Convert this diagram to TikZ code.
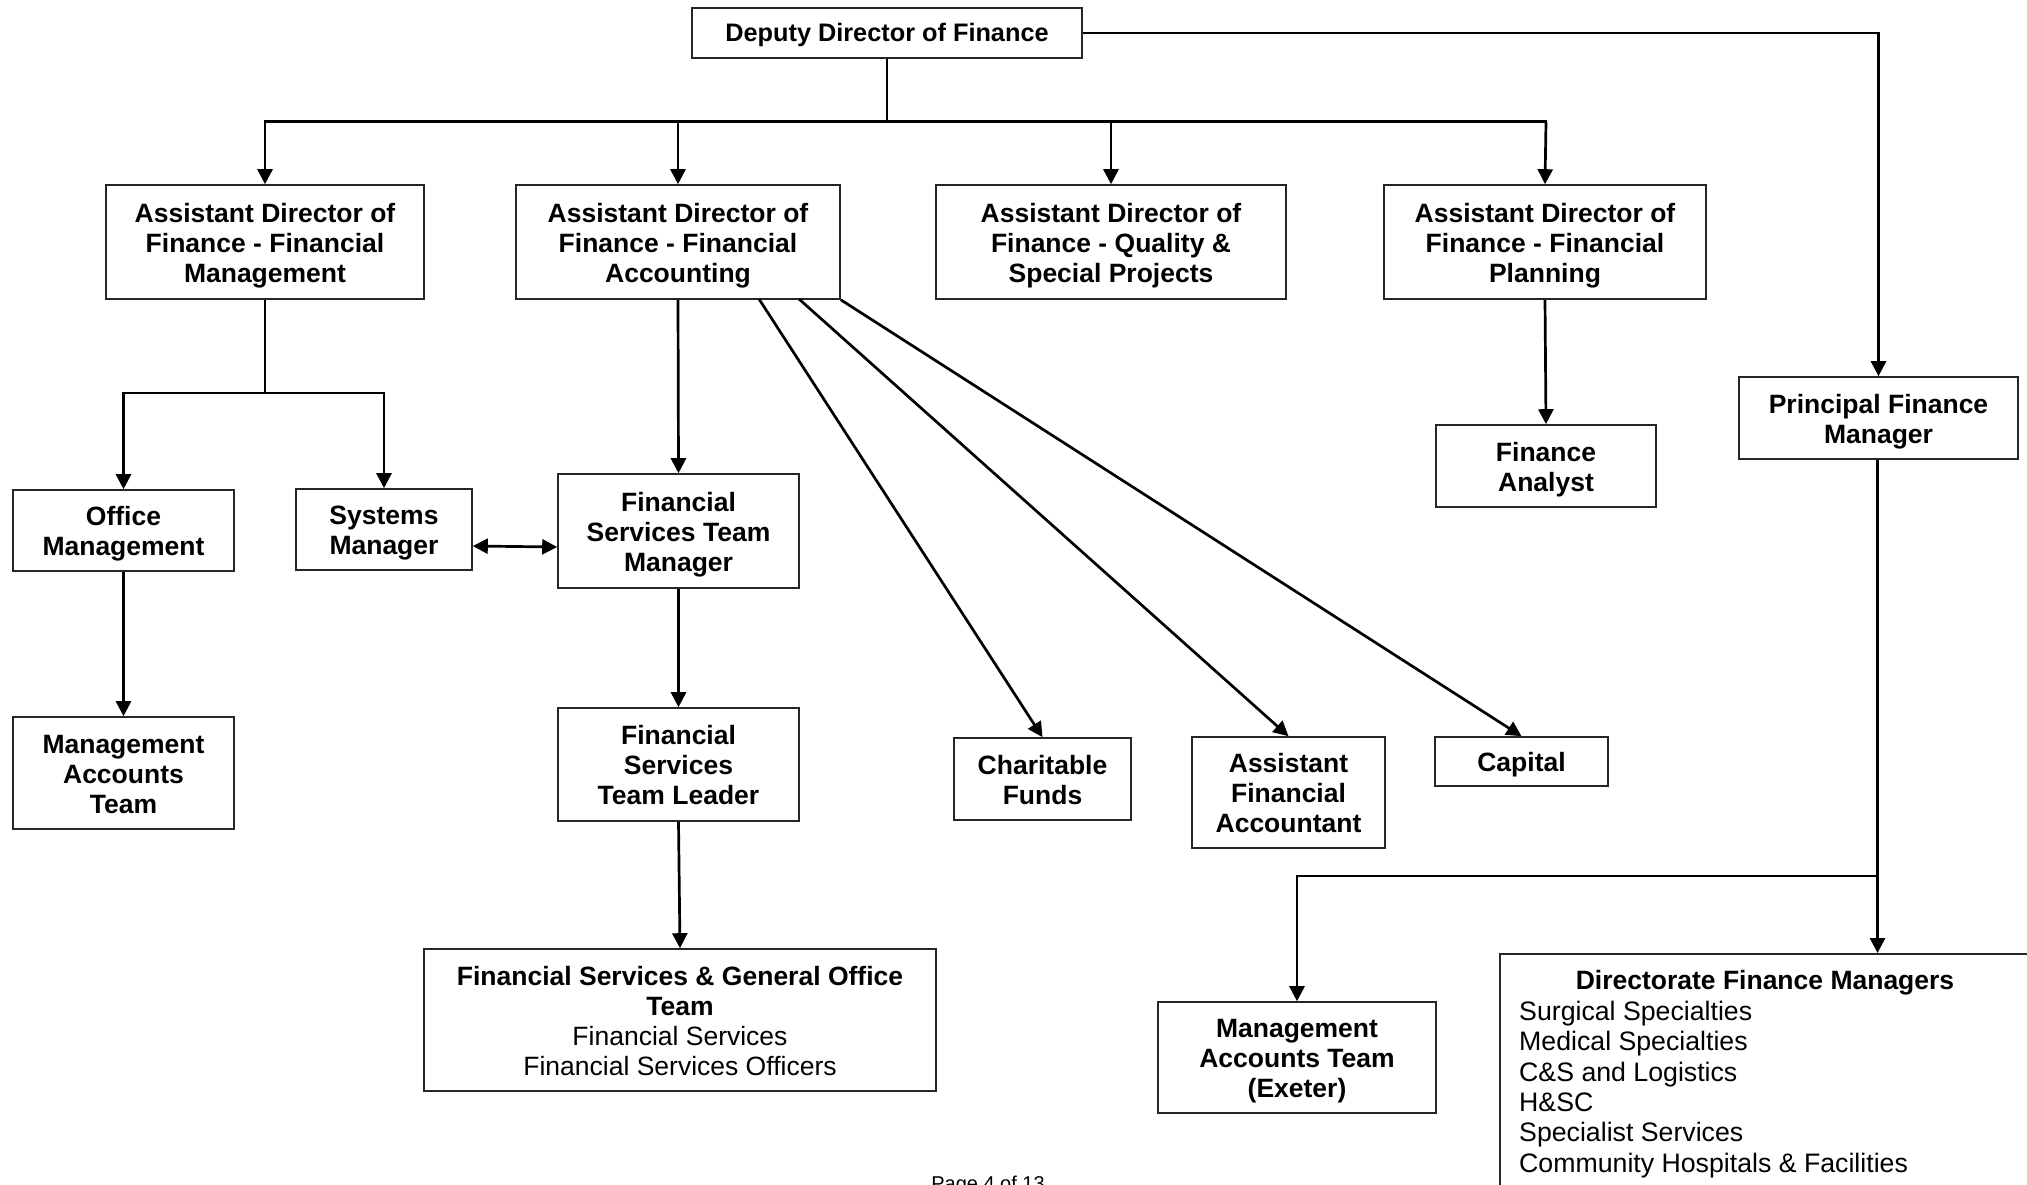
\documentclass[tikz,border=0pt]{standalone}
\usepackage{fontspec}
\setmainfont{Liberation Sans}
\usetikzlibrary{arrows.meta}
\newcommand{\oxTop}{\rule{0pt}{30pt}}
\newcommand{\oxBot}{\rule[-10pt]{0pt}{0pt}}
\begin{document}
\begin{tikzpicture}[x=1pt,y=-1pt,
  orgbox/.style={draw=black!85, line width=1.6pt, align=center, inner sep=0pt,
    font=\fontsize{26.5}{30}\selectfont\bfseries},
  conn/.style={line width=2.7pt},
  arr/.style={conn, -{Triangle[length=15pt,width=15pt]}},
  dblarr/.style={conn, {Triangle[length=15pt,width=15pt]}-{Triangle[length=15pt,width=15pt]}},
  plain/.style={font=\fontsize{26.7}{30.3}\selectfont, inner sep=0pt}
]
\useasboundingbox (0,0) rectangle (2027,1184);
\fill[white] (0,0) rectangle (2027,1184);

% top
\node[orgbox, minimum width=390pt, minimum height=50pt,
  font=\fontsize{25.3}{30}\selectfont\bfseries] (dep) at (887,33)
  {\rule{0pt}{27.4pt}Deputy Director of Finance\oxBot};

% assistant directors
\node[orgbox, minimum width=318pt, minimum height=114pt] (adfm) at (265,242)
  {\oxTop Assistant Director of\\Finance - Financial\\Management\oxBot};
\node[orgbox, minimum width=324pt, minimum height=114pt] (adfa) at (678,242)
  {\oxTop Assistant Director of\\Finance - Financial\\Accounting\oxBot};
\node[orgbox, minimum width=350pt, minimum height=114pt] (adqs) at (1111,242)
  {\oxTop Assistant Director of\\Finance - Quality \&\\Special Projects\oxBot};
\node[orgbox, minimum width=322pt, minimum height=114pt] (adfp) at (1545,242)
  {\oxTop Assistant Director of\\Finance - Financial\\Planning\oxBot};

\node[orgbox, minimum width=279pt, minimum height=82pt] (pfm) at (1878.5,418)
  {\oxTop Principal Finance\\Manager\oxBot};
\node[orgbox, minimum width=220pt, minimum height=82pt] (fa) at (1546,466)
  {\oxTop Finance\\Analyst\oxBot};

% left branch
\node[orgbox, minimum width=221pt, minimum height=81pt] (om) at (123.5,530.5)
  {\oxTop Office\\Management\oxBot};
\node[orgbox, minimum width=176pt, minimum height=81pt] (sm) at (384,529.5)
  {\oxTop Systems\\Manager\oxBot};
\node[orgbox, minimum width=221pt, minimum height=112pt] (mat) at (123.5,773)
  {\oxTop Management\\Accounts\\Team\oxBot};

% financial accounting branch
\node[orgbox, minimum width=241pt, minimum height=114pt] (fstm) at (678.5,531)
  {\oxTop Financial\\Services Team\\Manager\oxBot};
\node[orgbox, minimum width=241pt, minimum height=113pt] (fstl) at (678.5,764.5)
  {\oxTop Financial\\Services\\Team Leader\oxBot};
\node[orgbox, minimum width=512pt, minimum height=142pt,
  font=\fontsize{26.5}{30}\selectfont] (fsgo) at (680,1020)
  {\oxTop\textbf{Financial Services \& General Office}\\\textbf{Team}\\Financial Services\\Financial Services Officers\oxBot};
\node[orgbox, minimum width=177pt, minimum height=82pt] (cf) at (1042.5,779)
  {\oxTop Charitable\\Funds\oxBot};
\node[orgbox, minimum width=193pt, minimum height=111pt] (afa) at (1288.5,792.5)
  {\oxTop Assistant\\Financial\\Accountant\oxBot};
\node[orgbox, minimum width=173pt, minimum height=49pt] (cap) at (1521.5,761.5)
  {\oxTop Capital\oxBot};

% principal finance manager branch
\node[orgbox, minimum width=278pt, minimum height=111pt] (mate) at (1297,1057.5)
  {\oxTop Management\\Accounts Team\\(Exeter)\oxBot};
\node[draw=black!85, line width=1.6pt, anchor=north west, minimum width=620pt,
  minimum height=320pt, inner sep=0pt] (dfm) at (1499,953) {};
\node[font=\fontsize{26.5}{30}\selectfont\bfseries, inner sep=0pt] (dfmt) at (1765,982.5)
  {Directorate Finance Managers};
\node[plain, anchor=north west, align=left] (dfml) at (1519,1001)
  {Surgical Specialties\\Medical Specialties\\C\&S and Logistics\\H\&SC\\Specialist Services\\Community Hospitals \& Facilities};

% page footer
\node[font=\fontsize{20}{24}\selectfont, anchor=base, inner sep=0pt] (pg) at (988,1190) {Page 4 of 13};

% connectors
\coordinate (busl) at (265,121.5);
\coordinate (busr) at (1546,121.5);
\draw[conn] (dep.south) -- (dep.south |- busl);
\draw[conn, line cap=rect] (busl) -- (busr);
\draw[arr] (busl) -- (adfm.north);
\draw[arr] (adfa.north |- busl) -- (adfa.north);
\draw[arr] (adqs.north |- busl) -- (adqs.north);
\draw[arr] (busr) -- (adfp.north);
\draw[arr] (dep.east) -| (pfm.north);

\coordinate (j1) at (265,393);
\draw[conn] (adfm.south) -- (j1);
\draw[arr] (j1) -| (om.north);
\draw[arr] (j1) -| (sm.north);
\draw[arr] (om.south) -- (mat.north);

\draw[arr] (adfa.south) -- (fstm.north);
\draw[dblarr] ([yshift=-16.5pt]sm.east) -- ([yshift=-16pt]fstm.west);
\draw[arr] (fstm.south) -- (fstl.north);
\draw[arr] (fstl.south) -- (fsgo.north);

\coordinate (d1) at (759,299);
\coordinate (d2) at (799,299);
\draw[arr] (d1) -- (cf.north);
\draw[arr] (d2) -- (afa.north);
\draw[arr] (adfa.south east) -- (cap.north);

\draw[arr] (adfp.south) -- (fa.north);

\coordinate (j2) at (1877.5,876);
\draw[conn] (pfm.south -| j2) -- (j2);
\draw[arr] (j2) -| (mate.north);
\draw[arr] (j2) -- (dfm.north -| j2);
\end{tikzpicture}
\end{document}
